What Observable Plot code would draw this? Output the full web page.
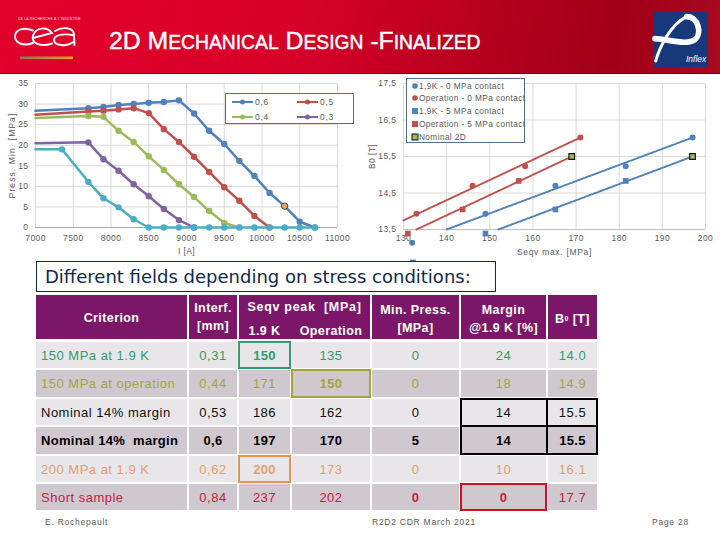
<!DOCTYPE html>
<html><head><meta charset="utf-8">
<script src="https://cdn.jsdelivr.net/npm/d3@7"></script>
<script src="https://cdn.jsdelivr.net/npm/@observablehq/plot@0.6"></script>
<style>
html,body{margin:0;padding:0;background:#fff;width:720px;height:540px;overflow:hidden;font-family:"Liberation Sans",sans-serif}
.abs{position:absolute}
#header{left:0;top:0;width:720px;height:73px;background:linear-gradient(100deg,#e2002b 0%,#d80028 40%,#a00018 85%,#a80a20 100%);border-bottom:1px solid #5a0a14}
#title{left:109px;top:26px;color:#fff;font-size:24.8px;font-weight:400;white-space:pre;-webkit-text-stroke:.45px #fff;line-height:30px}
#title span{font-size:19.3px}
.plot{left:0;top:70px}
.legend{background:#fff;border:1px solid #51708f;box-sizing:border-box;font-size:8.5px;color:#595959;letter-spacing:.75px}
.cell{position:absolute;display:flex;align-items:center;justify-content:center;font-size:13px;white-space:pre;box-sizing:border-box;letter-spacing:.5px}
.hd{color:#fff;font-weight:700;text-align:center;font-size:12.5px;letter-spacing:.4px;line-height:18px}
.hl{position:absolute;box-sizing:border-box;border-style:solid;border-width:2px}
.foot{position:absolute;top:517px;font-size:8.5px;color:#595959;letter-spacing:.75px;white-space:pre}
</style></head><body>
<div class="abs" id="header"></div>
<svg class="abs" style="left:0;top:0" width="720" height="74">
  <defs><linearGradient id="gold"><stop offset="0" stop-color="#8a7a50"/><stop offset="1" stop-color="#e0a020"/></linearGradient></defs>
  <text x="18" y="20" fill="#fff" font-size="3.3" letter-spacing=".25" opacity=".85">DE LA RECHERCHE À L'INDUSTRIE</text>
  <g fill="none" stroke="#fff" stroke-width="1.9" stroke-linecap="round">
    <path d="M33,30.5 C22,26 15,31 15,36.5 C15,42 22,47 33,43"/>
    <path d="M33,38 L52,33 C47,26.5 36,27 33,35.5 C31,43 40,47.5 52,43.5"/>
    <path d="M55,31 C62,26.5 74,27 74,35 L74.5,45 M74,35.5 C64,33 54,35 54,40 C54,45.5 66,47.5 74,41.5"/>
  </g>
  <rect x="20" y="56.5" width="53" height="2.6" fill="url(#gold)"/>
  <rect x="653" y="12" width="55" height="55" fill="#17397a"/>
  <g transform="translate(645,5) scale(.3333)" fill="none" stroke="#fff" stroke-linecap="round">
    <path d="M32,168 C45,125 75,60 125,35" stroke-width="9"/>
    <path d="M125,35 C160,35 172,85 150,104 C125,122 70,103 30,101" stroke-width="17"/>
  </g>
  <text x="686" y="62" fill="#fff" font-size="8.5" font-style="italic">Inflex</text>
</svg>
<div class="abs" id="title">2D M<span>ECHANICAL</span> D<span>ESIGN</span> -F<span>INALIZED</span></div>
<div class="abs plot" id="left"></div>
<div class="abs plot" id="right"></div>
<div class="abs legend" id="legL" style="left:225px;top:93px;width:129px;height:31px"></div>
<div class="abs legend" id="legR" style="left:406px;top:78px;width:119px;height:65px"></div>
<div class="abs" style="left:36px;top:261px;width:460px;height:31px;box-sizing:border-box;background:#fff;border:1px solid #0f2a4a;color:#0f2a4a;font-family:'DejaVu Sans';font-size:18px;line-height:29px;padding-left:8px;white-space:pre">Different fields depending on stress conditions:</div>
<div class="abs" id="table" style="left:0;top:0"></div>
<div class="foot" style="left:45px">E. Rochepault</div>
<div class="foot" style="left:372px">R2D2 CDR March 2021</div>
<div class="foot" style="left:652px">Page 28</div>
<script>
// ---- left chart data
const currentMain = [7000,7700,7900,8100,8300,8500,8700,8900,9100,9300,9500,9700,9900,10100,10300,10500,10700];
const pressure06 = [28.4,29.0,29.3,29.8,30.0,30.3,30.5,30.9,27.7,23.5,20.3,16.2,12.5,8.4,5.2,1.4,0];
const pressure05 = [27.4,28.2,28.4,28.7,29.0,27.8,23.9,20.8,17.2,13.5,9.8,6.5,2.8,0];
const pressure04 = [26.6,27.1,26.9,23.5,20.8,17.3,14.0,10.5,7.4,4.0,1.1,0];
const pressure03 = [20.5,20.7,16.6,13.8,10.5,7.6,4.5,1.8,0];
const currentLow = [7000,7350,7700,7900,8100,8300,8500,8700,8900,9100,9300,9500,9700,9900,10100,10300,10500,10700];
const pressureLow = [19,19,11.1,7.1,4.9,2.0,0,0,0,0,0,0,0,0,0,0,0,0];
const designPoint = {i:10300,p:5.2};
const seriesNames = ["0,6","0,5","0,4","0,3"];
// ---- right chart data
const seqv19k0 = [132,149,165.2,181.5,197];
const b019k0 = [13.14,13.93,14.7,15.23,16.02];
const seqvOp0 = [133,146,158.2,171];
const b0Op0 = [13.93,14.7,15.23,16.02];
const seqv19k5 = [132.2,149,165.2,181.5,197];
const b019k5 = [12.6,13.39,14.05,14.83,15.5];
const seqvOp5 = [131,143.7,156.7,169];
const b0Op5 = [13.39,14.05,14.83,15.5];
const nominalSeqv = [169,197];
const nominalB0 = [15.5,15.5];
const trendOp0 = {x:[130,171],y:[13.75,16.02]};
const trendOp5 = {x:[133,169],y:[13.5,15.5]};
const trend19k0 = {x:[140,197],y:[13.5,16.02]};
const trend19k5 = {x:[152,197],y:[13.5,15.5]};
const rightLegend = ["1,9K - 0 MPa contact","Operation - 0 MPa contact","1,9K - 5 MPa contact","Operation - 5 MPa contact","Nominal 2D"];
// ---- table data
const criteria = ["150 MPa at 1.9 K","150 MPa at operation","Nominal 14% margin","Nominal 14%  margin","200 MPa at 1.9 K","Short sample"];
const interf = ["0,31","0,44","0,53","0,6","0,62","0,84"];
const seqvPeak19 = ["150","171","186","197","200","237"];
const seqvPeakOp = ["135","150","162","170","173","202"];
const minPress = ["0","0","0","5","0","0"];
const marginPct = ["24","18","14","14","10","0"];
const b0Field = ["14.0","14.9","15.5","15.5","16.1","17.7"];

const BLUE="#4f81bd",RED="#c0504d",GREEN="#9bbb59",PURPLE="#8064a2",CYAN="#4bacc6";
const rows=(xs,ys)=>ys.map((y,k)=>({x:xs[k],y}));
const axisStyle={fontFamily:"Liberation Sans",fontSize:"8.5px",color:"#595959",letterSpacing:".4px",background:"transparent",overflow:"visible"};
const GRID="#d9d9d9";

const lineSeries=[[currentMain,pressure06,BLUE],[currentMain,pressure05,RED],[currentMain,pressure04,GREEN],[currentMain,pressure03,PURPLE],[currentLow,pressureLow,CYAN]];
const left=Plot.plot({
  width:360,height:190,marginLeft:35,marginRight:23,marginTop:13,marginBottom:33,style:axisStyle,
  x:{domain:[7000,11000],ticks:d3.range(7000,11001,500)},
  y:{domain:[0,35],ticks:d3.range(0,36,5)},
  marks:[
    Plot.gridX(d3.range(7000,11001,500),{stroke:GRID,strokeOpacity:1}),
    Plot.gridY(d3.range(0,36,5),{stroke:GRID,strokeOpacity:1}),
    Plot.ruleY([0],{stroke:"#a6a6a6"}),
    Plot.axisX({ticks:d3.range(7000,11001,500),tickFormat:d=>String(d),tickSize:0,tickPadding:7,label:"I [A]",labelAnchor:"center",labelArrow:"none",labelOffset:26}),
    Plot.axisY({ticks:d3.range(0,36,5),tickSize:0,tickPadding:7,label:"Press. Min. [MPa]",labelAnchor:"center",labelArrow:"none",labelOffset:27}),
    ...lineSeries.flatMap(([xs,ys,c])=>{const d=rows(xs,ys);return [
      Plot.line(d,{x:"x",y:"y",stroke:c,strokeWidth:2.5}),
      Plot.dot(d.filter(p=>p.x>7000),{x:"x",y:"y",fill:c,r:3.2})
    ]}),
    Plot.dot([designPoint],{x:"i",y:"p",fill:"#f5a35c",stroke:"#333",strokeWidth:.8,r:3.2})
  ]
});
document.getElementById("left").append(left);
d3.select(left).selectAll('[aria-label="y-axis label"] text').style("letter-spacing","1.1px");

const trend=(t,c)=>Plot.line(rows(t.x,t.y),{x:"x",y:"y",stroke:c,strokeWidth:1.9,strokeDasharray:"1.5,1"});
const right=Plot.plot({
  width:720,height:210,marginLeft:403,marginRight:15,marginTop:13,marginBottom:51,style:axisStyle,
  x:{domain:[130,200]},
  y:{domain:[13.5,17.5]},
  marks:[
    Plot.gridX(d3.range(130,201,10),{stroke:GRID,strokeOpacity:1}),
    Plot.gridY([13.5,14.5,15.5,16.5,17.5],{stroke:GRID,strokeOpacity:1}),
    Plot.ruleY([13.5],{stroke:"#bfbfbf"}),
    Plot.axisX({ticks:d3.range(130,201,10),tickSize:0,tickPadding:5,label:"Seqv max. [MPa]",labelAnchor:"center",labelArrow:"none",labelOffset:25}),
    Plot.axisY({ticks:[13.5,14.5,15.5,16.5,17.5],tickFormat:d=>d.toFixed(1).replace(".",","),tickSize:0,tickPadding:7,label:"B0 [T]",labelAnchor:"center",labelArrow:"none",labelOffset:35}),
    trend(trendOp0,RED),trend(trendOp5,RED),trend(trend19k0,BLUE),trend(trend19k5,BLUE),
    Plot.dot(rows(seqv19k0,b019k0),{x:"x",y:"y",fill:BLUE,r:3}),
    Plot.dot(rows(seqvOp0,b0Op0),{x:"x",y:"y",fill:RED,r:3}),
    Plot.dot(rows(seqv19k5,b019k5),{x:"x",y:"y",fill:BLUE,symbol:"square",r:3.2}),
    Plot.dot(rows(seqvOp5,b0Op5),{x:"x",y:"y",fill:RED,symbol:"square",r:3.2}),
    Plot.dot(rows(nominalSeqv,nominalB0),{x:"x",y:"y",fill:GREEN,stroke:"#111",strokeWidth:1.1,symbol:"square",r:3.2})
  ]
});
document.getElementById("right").append(right);
d3.select(right).selectAll('[aria-label="x-axis label"] text').style("letter-spacing",".7px");

// ---- legends
const legL=document.getElementById("legL");
[[0,0],[1,0],[0,1],[1,1]].forEach(([c,r],k)=>{
  const col=[BLUE,RED,GREEN,PURPLE][k];
  const el=document.createElement("div");
  el.style.cssText=`position:absolute;left:${6+c*65}px;top:${r*15+2}px;display:flex;align-items:center;height:12px`;
  el.innerHTML=`<svg width="21" height="8" style="margin-right:2px"><line x1="0" x2="21" y1="4" y2="4" stroke="${col}" stroke-width="2"/><circle cx="10.5" cy="4" r="2.5" fill="${col}"/></svg>${seriesNames[k]}`;
  legL.append(el);
});
const legR=document.getElementById("legR");
const legMark=[`<circle cx="4" cy="4" r="2.8" fill="${BLUE}"/>`,`<circle cx="4" cy="4" r="2.8" fill="${RED}"/>`,`<rect x="1" y="1" width="6" height="6" fill="${BLUE}"/>`,`<rect x="1" y="1" width="6" height="6" fill="${RED}"/>`,`<rect x="1" y="1" width="6" height="6" fill="${GREEN}" stroke="#111"/>`];
rightLegend.forEach((t,k)=>{
  const el=document.createElement("div");
  el.style.cssText=`position:absolute;left:4px;top:${k*12.9}px;height:13px;display:flex;align-items:center;white-space:pre;font-size:8.3px;letter-spacing:.38px`;
  el.innerHTML=`<svg width="8" height="8" style="margin-right:0">${legMark[k]}</svg>${t}`;
  legR.append(el);
});

// ---- table
const colX=[[36,187],[189,237],[239,290],[292,370],[372,459],[461,546],[548,597]];
const rowY=[[342,368],[370,397],[399,425],[427,454],[456,482],[484,510]];
const rowColor=["#2e9e6b","#a3a53a","#111","#000","#e0a070","#c8203a"];
const rowBg=["#e8e6e9","#cfc9cf"];
const HDBG="#7b1668";
const boldCell=new Set(["0:2","1:3","3:0","3:1","3:2","3:3","3:4","3:5","3:6","4:2","5:4","5:5"]);
const tb=document.getElementById("table");
const addCell=(x0,y0,x1,y1,html,cls,extra)=>{
  const d=document.createElement("div");d.className="cell "+(cls||"");
  d.style.cssText=`left:${x0}px;top:${y0}px;width:${x1-x0}px;height:${y1-y0}px;${extra||""}`;
  d.innerHTML=html;tb.append(d);
};
[[36,187],[189,237],[239,370],[372,459],[461,546],[548,597]].forEach(([a,b])=>addCell(a,295,b,339,"","",`background:${HDBG}`));
addCell(36,295,187,341,"Criterion","hd");
addCell(189,295,237,339,"Interf.<br>[mm]","hd");
addCell(239,295,370,318,"Seqv peak  [MPa]","hd","letter-spacing:.7px");
addCell(239,320,290,341,"1.9 K","hd");
addCell(292,320,370,341,"Operation","hd");
addCell(372,296,459,341,"Min. Press.<br>[MPa]","hd");
addCell(461,296,546,341,"Margin<br>@1.9 K [%]","hd");
addCell(548,296,597,341,"B<sub style='font-size:7px;line-height:0'>0</sub> [T]","hd");
const cols=[criteria,interf,seqvPeak19,seqvPeakOp,minPress,marginPct,b0Field];
criteria.forEach((_,r)=>cols.forEach((col,c)=>{
  const b=boldCell.has(r+":"+c);
  addCell(colX[c][0],rowY[r][0],colX[c][1],rowY[r][1],col[r],"",
   `background:${rowBg[r%2]};color:${rowColor[r]};font-weight:${b?700:400};`+(b?"letter-spacing:.3px;":"")+(c==0?"justify-content:flex-start;padding-left:5px;":""));
}));
const hl=(c0,r0,c1,r1,col)=>{
  const d=document.createElement("div");d.className="hl";
  d.style.cssText=`left:${colX[c0][0]-1}px;top:${rowY[r0][0]-1}px;width:${colX[c1][1]-colX[c0][0]+2}px;height:${rowY[r1][1]-rowY[r0][0]+2}px;border-color:${col}`;
  tb.append(d);
};
hl(2,0,2,0,"#2e9e6b");hl(3,1,3,1,"#a3a53a");hl(2,4,2,4,"#e8944a");hl(5,5,5,5,"#d01020");
hl(5,2,6,3,"#000");
const seam=(s)=>{const d=document.createElement("div");d.style.cssText="position:absolute;background:#000;"+s;tb.append(d);};
seam(`left:${colX[5][1]}px;top:${rowY[2][0]}px;width:2px;height:${rowY[3][1]-rowY[2][0]}px`);
seam(`left:${colX[5][0]}px;top:${rowY[2][1]}px;width:${colX[6][1]-colX[5][0]}px;height:2px`);
</script>
</body></html>
